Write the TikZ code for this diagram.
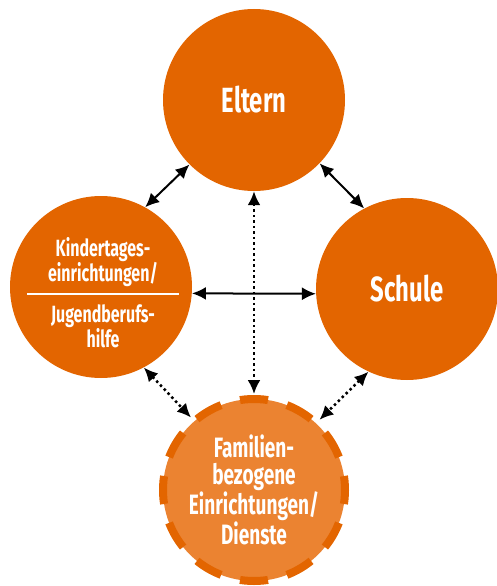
\documentclass[tikz,border=0pt]{standalone}
\usepackage{fontspec}
\setmainfont{Fira Sans}[FakeStretch=0.68]
\usetikzlibrary{arrows.meta}
\definecolor{orangemain}{HTML}{E36500}
\definecolor{orangelight}{HTML}{EB8331}

\begin{document}
\begin{tikzpicture}[x=1pt,y=-1pt,
  partner/.style={circle,fill=orangemain,minimum size=182pt,inner sep=0pt,text=white,align=center},
  bigtext/.style={font=\bfseries\fontsize{35}{36}\selectfont},
  smalltext/.style={text=white,align=center,font=\bfseries\fontsize{23.5}{25}\selectfont},
  link/.style={line width=2pt,{Latex[length=14pt,width=13pt]}-{Latex[length=14pt,width=13pt]}},
  dotlink/.style={link,line width=2.5pt,dash pattern=on 2.5pt off 3pt}]
  \useasboundingbox (0,0) rectangle (497,586);

  \node[partner,bigtext] (eltern) at (254,100) {Eltern};
  \node[partner] (kita) at (101,287) {};
  \node[partner,bigtext] (schule) at (407,289) {Schule};
  \node[partner,fill=orangelight,minimum size=182pt,outer sep=5pt,
        font=\bfseries\fontsize{28}{27}\selectfont] (fam) at (254,490)
        {Familien-\\bezogene\\Einrichtungen/\\Dienste};
  \draw[orangemain,line width=8pt,dash pattern=on 28pt off 19.65pt,dash phase=14pt] (fam.center) circle (91);

  \node[smalltext] (kitaoben) at (103,262) {Kindertages-\\einrichtungen/};
  \node[smalltext] (kitaunten) at (103,326) {Jugendberufs-\\hilfe};
  \draw[white,line width=2.5pt] ([shift={(-74,7)}]kita.center) -- ([shift={(78,7)}]kita.center);

  \draw[link] (eltern.225) -- (kita.61);
  \draw[link] (eltern.316) -- (schule.118);
  \draw[link] (kita.-4) -- (schule.183);
  \draw[dotlink] (eltern.south) -- (fam.north);
  \draw[dotlink] (kita.-62) -- (fam.131);
  \draw[dotlink] (schule.245) -- (fam.47);
\end{tikzpicture}
\end{document}
